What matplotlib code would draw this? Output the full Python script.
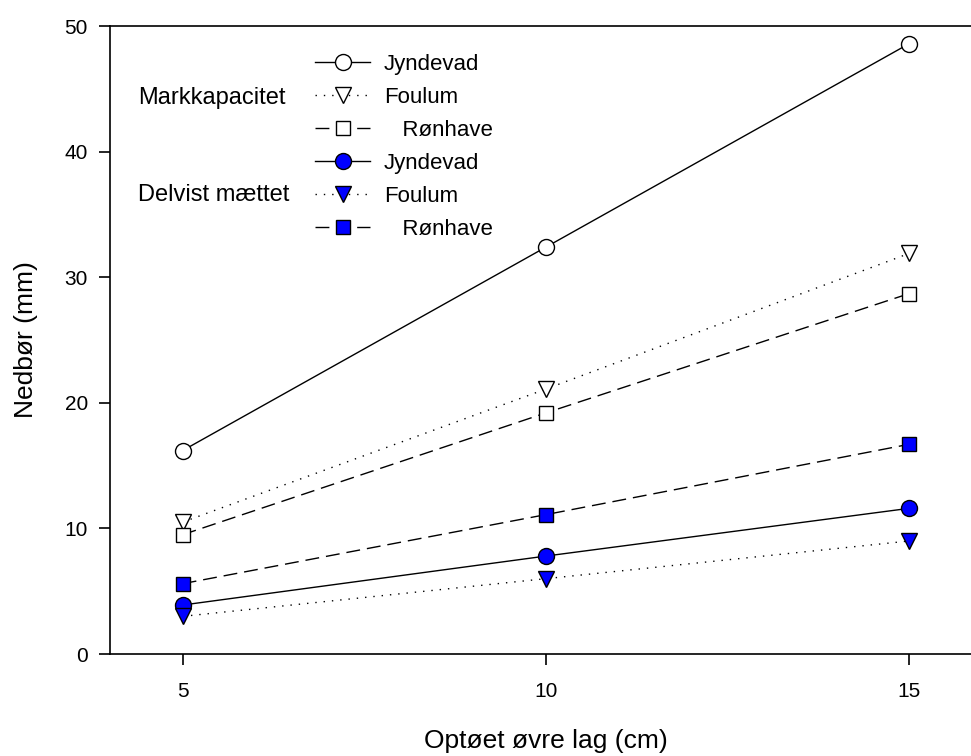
import matplotlib.pyplot as plt

plt.rcParams['font.family'] = ['Liberation Sans', 'DejaVu Sans']

# optoet lag (cm)
depth = [5, 10, 15]

# markkapacitet
jyndevad_mk = [16.2, 32.4, 48.6]
foulum_mk = [10.5, 21.1, 31.9]
roenhave_mk = [9.5, 19.2, 28.7]

# delvist maettet
jyndevad_dm = [3.9, 7.8, 11.6]
foulum_dm = [3.0, 6.0, 9.0]
roenhave_dm = [5.6, 11.1, 16.7]

fig = plt.figure(figsize=(9.71, 7.56), dpi=100)
ax = fig.add_axes([0.1133, 0.1349, 0.898, 0.8307])

dash = (0, (10, 5))
dot = (0, (1, 5))

ax.plot(depth, jyndevad_mk, '-', color='black', lw=1, marker='o', ms=11.5,
        mfc='white', mec='black', label='Jyndevad')
ax.plot(depth, foulum_mk, linestyle=dot, color='black', lw=1, marker='v', ms=11,
        mfc='white', mec='black', label='Foulum')
ax.plot(depth, roenhave_mk, linestyle=dash, color='black', lw=1, marker='s', ms=10.5,
        mfc='white', mec='black', label='   Rønhave')
ax.plot(depth, jyndevad_dm, '-', color='black', lw=1, marker='o', ms=11.5,
        mfc='#0000ff', mec='black', label='Jyndevad')
ax.plot(depth, foulum_dm, linestyle=dot, color='black', lw=1, marker='v', ms=11,
        mfc='#0000ff', mec='black', label='Foulum')
ax.plot(depth, roenhave_dm, linestyle=dash, color='black', lw=1, marker='s', ms=10.5,
        mfc='#0000ff', mec='black', label='   Rønhave')

ax.set_xlim(4, 16)
ax.set_ylim(0, 50)
ax.set_xticks(depth)
ax.set_yticks([0, 10, 20, 30, 40, 50])
ax.spines['right'].set_visible(False)
for s in ['left', 'bottom', 'top']:
    ax.spines[s].set_linewidth(1.2)
ax.tick_params(direction='out', length=8, width=1.2, labelsize=15, pad=8)
ax.tick_params(axis='x', pad=12)

ax.set_xlabel('Optøet øvre lag (cm)', fontsize=19, labelpad=20)
ax.set_ylabel('Nedbør (mm)', fontsize=19, labelpad=19)

leg = ax.legend(loc='upper left', bbox_to_anchor=(0.235, 0.956), frameon=False,
                fontsize=16, handlelength=2.5, handletextpad=0.6, labelspacing=0.54,
                borderpad=0, borderaxespad=0)

ax.text(0.032, 0.886, 'Markkapacitet', transform=ax.transAxes, fontsize=17, va='center')
ax.text(0.032, 0.731, 'Delvist mættet', transform=ax.transAxes, fontsize=17, va='center')

fig.savefig('out.png', dpi=100)
